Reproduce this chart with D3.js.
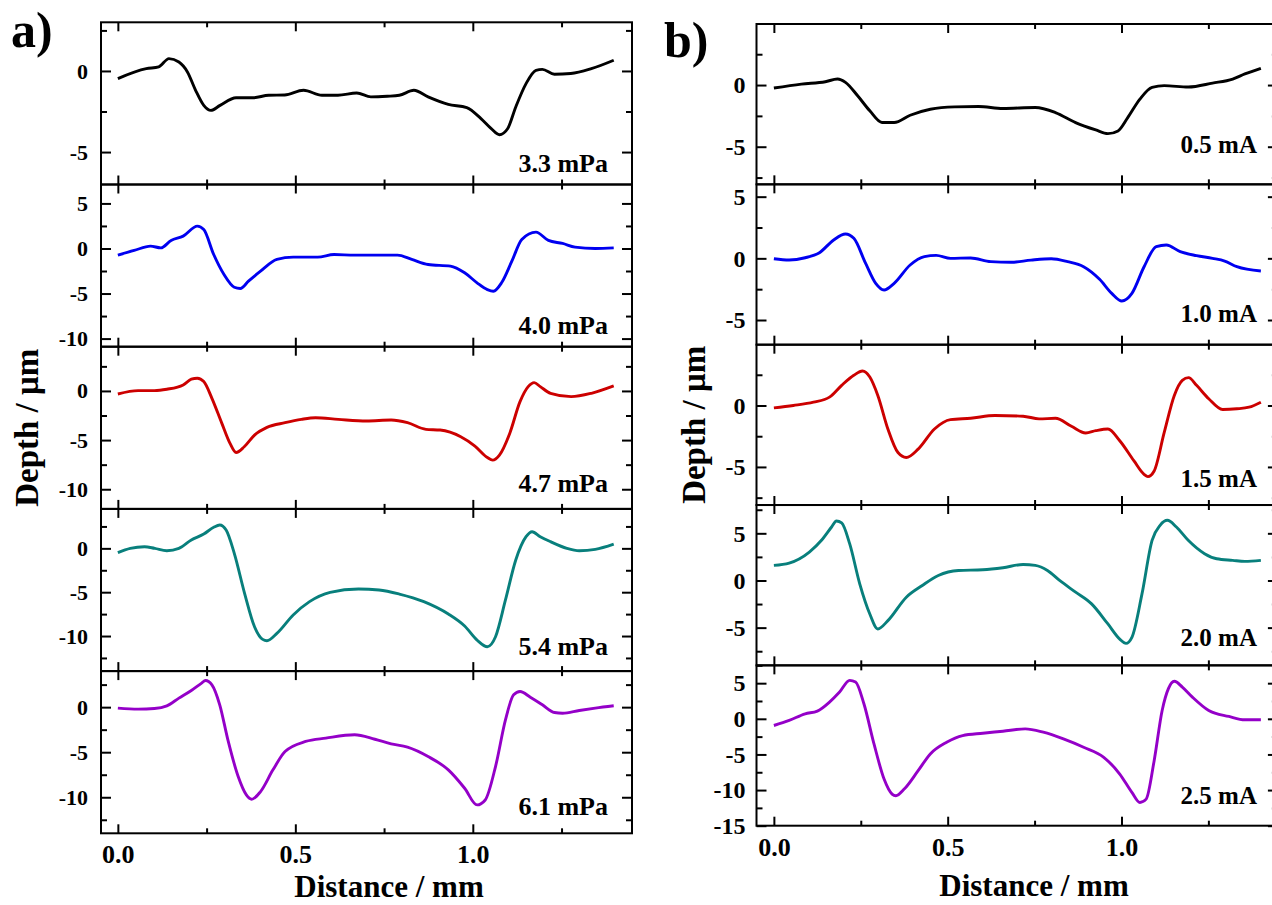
<!DOCTYPE html>
<html>
<head>
<meta charset="utf-8">
<title>Depth profiles</title>
<script src="https://d3js.org/d3.v7.min.js"></script>
<style>
  body { margin: 0; background: #fff; }
</style>
</head>
<body>
<div id="chart"></div>
<script>

// ---- data: [distance mm, depth um] ----
var p33 = [[0,-0.47],[0.08,0.14],[0.115,0.25],[0.144,0.76],[0.172,0.55],[0.196,-0.06],[0.219,-1.19],[0.242,-2.12],[0.262,-2.43],[0.288,-2.12],[0.333,-1.65],[0.38,-1.65],[0.425,-1.5],[0.47,-1.48],[0.523,-1.19],[0.575,-1.5],[0.62,-1.5],[0.673,-1.36],[0.713,-1.6],[0.759,-1.56],[0.793,-1.5],[0.834,-1.19],[0.874,-1.6],[0.931,-2.06],[0.983,-2.26],[1.023,-2.94],[1.052,-3.56],[1.075,-3.93],[1.098,-3.56],[1.121,-2.22],[1.15,-0.78],[1.178,0.04],[1.196,0.1],[1.23,-0.2],[1.276,-0.16],[1.334,0.14],[1.397,0.66]];
var p40 = [[0,-0.74],[0.046,-0.22],[0.092,0.26],[0.121,0.07],[0.15,0.89],[0.184,1.37],[0.224,2.48],[0.242,2.1],[0.27,-0.67],[0.299,-2.89],[0.328,-4.3],[0.345,-4.44],[0.368,-3.63],[0.402,-2.52],[0.448,-1.22],[0.494,-0.96],[0.563,-0.96],[0.609,-0.67],[0.667,-0.74],[0.724,-0.74],[0.788,-0.74],[0.828,-1.22],[0.874,-1.78],[0.937,-1.96],[0.977,-2.7],[1.012,-3.81],[1.041,-4.56],[1.058,-4.74],[1.081,-3.81],[1.11,-1.41],[1.138,1.0],[1.178,1.81],[1.213,0.89],[1.253,0.56],[1.288,0.15],[1.345,0],[1.397,0.07]];
var p47 = [[0,-0.31],[0.057,0.03],[0.103,0.03],[0.138,0.17],[0.184,0.61],[0.207,1.19],[0.224,1.29],[0.242,0.95],[0.265,-0.75],[0.293,-3.3],[0.316,-5.34],[0.333,-6.26],[0.356,-5.68],[0.385,-4.49],[0.42,-3.71],[0.471,-3.23],[0.517,-2.89],[0.557,-2.72],[0.621,-2.89],[0.701,-3.06],[0.77,-2.96],[0.816,-3.23],[0.868,-3.91],[0.908,-3.98],[0.966,-4.66],[1.006,-5.61],[1.041,-6.77],[1.056,-7.04],[1.075,-6.53],[1.104,-4.32],[1.133,-1.09],[1.156,0.44],[1.173,0.85],[1.19,0.44],[1.219,-0.24],[1.277,-0.58],[1.334,-0.24],[1.397,0.51]];
var p54 = [[0,-0.49],[0.035,0],[0.075,0.19],[0.104,0],[0.138,-0.27],[0.172,0],[0.207,0.95],[0.242,1.63],[0.27,2.4],[0.287,2.66],[0.305,2.09],[0.328,-0.57],[0.357,-5.13],[0.385,-8.94],[0.408,-10.38],[0.42,-10.53],[0.448,-9.7],[0.494,-7.6],[0.54,-6.08],[0.598,-5.02],[0.678,-4.64],[0.736,-4.75],[0.793,-5.21],[0.862,-6.08],[0.931,-7.49],[0.977,-8.86],[1.012,-10.46],[1.041,-11.22],[1.064,-10.08],[1.092,-5.89],[1.121,-1.33],[1.15,1.33],[1.167,1.9],[1.19,1.33],[1.219,0.76],[1.265,0],[1.3,-0.27],[1.345,-0.11],[1.397,0.49]];
var p61 = [[0,-0.11],[0.057,-0.22],[0.103,-0.15],[0.138,0.15],[0.172,1.0],[0.207,1.85],[0.236,2.67],[0.247,2.96],[0.265,2.48],[0.287,0.26],[0.31,-3.63],[0.339,-7.7],[0.362,-9.74],[0.377,-10.22],[0.402,-9.37],[0.437,-6.96],[0.471,-4.93],[0.529,-3.81],[0.586,-3.44],[0.667,-3.07],[0.724,-3.56],[0.77,-4.07],[0.816,-4.44],[0.874,-5.48],[0.931,-6.96],[0.977,-9.0],[1.012,-10.85],[1.035,-10.3],[1.064,-6.59],[1.092,-1.41],[1.115,1.37],[1.133,1.74],[1.162,1.11],[1.196,0.26],[1.23,-0.59],[1.253,-0.67],[1.3,-0.37],[1.345,-0.11],[1.397,0.15]];

var c05 = [[0,-0.24],[0.079,0.08],[0.148,0.27],[0.183,0.49],[0.206,0.22],[0.241,-0.87],[0.276,-2.09],[0.311,-3.04],[0.346,-3.04],[0.392,-2.45],[0.45,-1.96],[0.52,-1.77],[0.589,-1.74],[0.659,-1.9],[0.752,-1.82],[0.81,-2.23],[0.868,-3.04],[0.926,-3.64],[0.961,-3.94],[0.99,-3.72],[1.018,-2.64],[1.053,-1.14],[1.088,-0.19],[1.123,-0.05],[1.192,-0.16],[1.262,0.16],[1.32,0.49],[1.355,0.9],[1.401,1.36]];
var c10 = [[0,-0.03],[0.044,-0.14],[0.09,0.05],[0.131,0.46],[0.172,1.49],[0.206,1.97],[0.23,1.62],[0.264,-0.41],[0.293,-2.03],[0.317,-2.57],[0.346,-2.03],[0.392,-0.54],[0.433,0.14],[0.467,0.24],[0.508,0],[0.566,0.03],[0.624,-0.27],[0.682,-0.32],[0.74,-0.14],[0.798,-0.03],[0.845,-0.27],[0.891,-0.68],[0.937,-1.7],[0.972,-2.84],[1.001,-3.46],[1.03,-2.84],[1.065,-0.68],[1.1,0.95],[1.129,1.08],[1.169,0.54],[1.216,0.22],[1.262,0],[1.297,-0.22],[1.332,-0.68],[1.401,-1.03]];
var c15 = [[0,-0.19],[0.056,0],[0.114,0.27],[0.16,0.68],[0.195,1.64],[0.23,2.46],[0.255,2.81],[0.276,2.32],[0.299,0.82],[0.328,-1.91],[0.357,-3.83],[0.381,-4.23],[0.415,-3.55],[0.462,-1.91],[0.508,-1.15],[0.566,-1.04],[0.636,-0.82],[0.717,-0.87],[0.763,-1.09],[0.81,-1.04],[0.856,-1.69],[0.897,-2.24],[0.926,-2.05],[0.961,-1.91],[0.995,-2.87],[1.036,-4.51],[1.065,-5.6],[1.076,-5.79],[1.094,-5.33],[1.123,-2.19],[1.152,0.82],[1.175,2.05],[1.193,2.27],[1.216,1.64],[1.251,0.55],[1.291,-0.33],[1.332,-0.27],[1.367,-0.14],[1.401,0.27]];
var c20 = [[0,1.6],[0.044,1.84],[0.102,3.01],[0.137,4.26],[0.166,5.67],[0.18,6.31],[0.195,6.1],[0.218,3.9],[0.247,-0.35],[0.276,-3.55],[0.299,-5.14],[0.328,-4.26],[0.381,-1.77],[0.427,-0.53],[0.473,0.53],[0.531,1.06],[0.601,1.13],[0.659,1.35],[0.717,1.7],[0.752,1.6],[0.787,1.06],[0.822,0],[0.868,-1.24],[0.914,-2.48],[0.961,-4.61],[0.995,-6.21],[1.013,-6.67],[1.03,-6.03],[1.059,-1.42],[1.088,4.26],[1.111,5.85],[1.132,6.38],[1.158,5.67],[1.192,4.26],[1.239,2.84],[1.274,2.3],[1.32,2.13],[1.355,2.02],[1.401,2.13]];
var c25 = [[0,-0.94],[0.044,-0.23],[0.09,0.7],[0.125,1.08],[0.16,2.35],[0.189,3.76],[0.218,5.4],[0.235,5.16],[0.259,2.11],[0.288,-3.52],[0.317,-8.45],[0.34,-10.56],[0.351,-10.8],[0.375,-9.86],[0.415,-7.28],[0.45,-4.93],[0.497,-3.29],[0.543,-2.35],[0.601,-2.02],[0.659,-1.74],[0.723,-1.41],[0.775,-1.88],[0.833,-2.82],[0.891,-3.99],[0.949,-5.4],[0.995,-7.75],[1.03,-10.33],[1.053,-11.74],[1.071,-11.27],[1.094,-5.87],[1.117,1.17],[1.135,4.23],[1.152,5.26],[1.175,4.46],[1.204,3.05],[1.251,1.17],[1.309,0.33],[1.355,-0.14],[1.401,-0.14]];

var pressureLabels = ["3.3 mPa", "4.0 mPa", "4.7 mPa", "5.4 mPa", "6.1 mPa"];
var currentLabels = ["0.5 mA", "1.0 mA", "1.5 mA", "2.0 mA", "2.5 mA"];
var pressureRanges = [[-7, 3], [-10.9, 7.1], [-12, 4.5], [-14, 4.5], [-14, 4]];
var currentRanges = [[-8.05, 4.95], [-7, 6], [-8.1, 4.95], [-9, 8], [-15, 7.5]];
var xMajor = [0, 0.5, 1.0];
var xMinor = [0.25, 0.75, 1.25];
var lineColors = ["#000000", "#0000f0", "#cc0000", "#087f7c", "#9400c8"];

var FONT = "'Liberation Serif', 'Times New Roman', serif";

var svg = d3.select("#chart").append("svg")
    .attr("width", 1272)
    .attr("height", 905);

function serif(sel, size) {
  sel.style("font-family", FONT)
     .style("font-weight", "bold")
     .style("font-size", size + "px")
     .style("fill", "#000");
}

function styleAxis(g) {
  g.select(".domain").remove();
  g.selectAll(".tick line").attr("stroke", "#000").attr("stroke-width", 2);
}

function drawPanel(p) {
  var x = d3.scaleLinear().domain([p.x0, p.x1]).range([p.left, p.right]);
  var n = p.series.length;
  var h = (p.bottom - p.top) / n;

  p.series.forEach(function(s, i) {
    var top = p.top + i * h, bot = top + h;
    var lo = p.ranges[i][0], hi = p.ranges[i][1];
    var y = d3.scaleLinear().domain([lo, hi]).range([bot, top]);

    var major = d3.range(Math.ceil(lo / 5) * 5, hi + 1e-9, 5);
    var minor = d3.range(Math.ceil((lo - 2.5) / 5) * 5 + 2.5, hi + 1e-9, 5);

    var g = svg.append("g");

    // y ticks left (with labels) and right
    g.append("g").attr("transform", "translate(" + p.left + ",0)")
      .call(d3.axisLeft(y).tickValues(major).tickSize(-10).tickPadding(p.yPad).tickFormat(function(d) { return String(d); }))
      .call(styleAxis)
      .selectAll("text").call(serif, p.yFont);
    g.append("g").attr("transform", "translate(" + p.left + ",0)")
      .call(d3.axisLeft(y).tickValues(minor).tickSize(-6).tickFormat(""))
      .call(styleAxis);
    g.append("g").attr("transform", "translate(" + p.right + ",0)")
      .call(d3.axisRight(y).tickValues(major).tickSize(-10).tickFormat(""))
      .call(styleAxis);
    g.append("g").attr("transform", "translate(" + p.right + ",0)")
      .call(d3.axisRight(y).tickValues(minor).tickSize(-6).tickFormat(""))
      .call(styleAxis);

    // x ticks top and bottom
    g.append("g").attr("transform", "translate(0," + top + ")")
      .call(d3.axisTop(x).tickValues(xMajor).tickSize(-9).tickFormat(""))
      .call(styleAxis);
    g.append("g").attr("transform", "translate(0," + top + ")")
      .call(d3.axisTop(x).tickValues(xMinor).tickSize(-5).tickFormat(""))
      .call(styleAxis);
    g.append("g").attr("transform", "translate(0," + bot + ")")
      .call(d3.axisBottom(x).tickValues(xMajor).tickSize(-9).tickPadding(p.xPad)
        .tickFormat(i === n - 1 ? d3.format(".1f") : function() { return ""; }))
      .call(styleAxis)
      .selectAll("text").call(serif, 26);
    g.append("g").attr("transform", "translate(0," + bot + ")")
      .call(d3.axisBottom(x).tickValues(xMinor).tickSize(-5).tickFormat(""))
      .call(styleAxis);

    // frame
    g.append("rect")
      .attr("x", p.left).attr("y", top)
      .attr("width", p.right - p.left).attr("height", h)
      .attr("fill", "none").attr("stroke", "#000").attr("stroke-width", 2);

    // profile
    g.append("path")
      .datum(s)
      .attr("fill", "none")
      .attr("stroke", lineColors[i])
      .attr("stroke-width", 2.9)
      .attr("stroke-linejoin", "round")
      .attr("d", d3.line()
        .x(function(d) { return x(d[0]); })
        .y(function(d) { return y(d[1]); })
        .curve(d3.curveMonotoneX));

    // condition label
    g.append("text")
      .attr("x", p.labelRight)
      .attr("y", bot - p.labelLift[i])
      .attr("text-anchor", "end")
      .call(serif, p.labelFont)
      .text(p.labels[i]);
  });

  // panel letter and axis titles
  svg.append("text")
    .attr("x", p.letterX).attr("y", p.letterY)
    .call(serif, 50)
    .text(p.letter);
  svg.append("text")
    .attr("transform", "translate(" + p.yTitleX + "," + ((p.top + p.bottom) / 2) + ") rotate(-90)")
    .attr("text-anchor", "middle")
    .call(serif, 33)
    .text("Depth / \u03bcm");
  svg.append("text")
    .attr("x", p.xTitleX).attr("y", p.xTitleY)
    .attr("text-anchor", "middle")
    .call(serif, 31)
    .text("Distance / mm");
}

drawPanel({
  series: [p33, p40, p47, p54, p61],
  labels: pressureLabels,
  ranges: pressureRanges,
  x0: -0.0475, x1: 1.4485,
  left: 101, right: 632, top: 22.3, bottom: 833.3,
  yPad: 13, yFont: 22, xPad: 11,
  labelRight: 608, labelFont: 26, labelLift: [13, 13, 17, 16, 18],
  letter: "a)", letterX: 11, letterY: 47,
  yTitleX: 38, xTitleX: 389, xTitleY: 897
});

drawPanel({
  series: [c05, c10, c15, c20, c25],
  labels: currentLabels,
  ranges: currentRanges,
  x0: -0.05, x1: 1.45,
  left: 756.5, right: 1277.9, top: 24, bottom: 825.7,
  yPad: 11, yFont: 24, xPad: 12,
  labelRight: 1257, labelFont: 25, labelLift: [31, 23, 18, 19, 22],
  letter: "b)", letterX: 664, letterY: 57,
  yTitleX: 705, xTitleX: 1034, xTitleY: 896
});

</script>
</body>
</html>
